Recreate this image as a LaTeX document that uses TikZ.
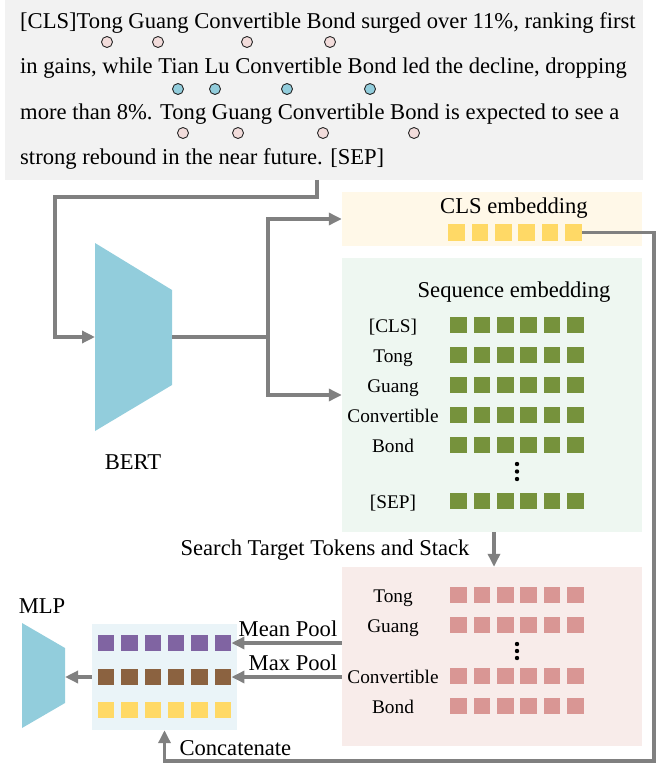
\documentclass[tikz,border=0pt]{standalone}
\usepackage{fontspec}
\setmainfont{Liberation Serif}
\usetikzlibrary{arrows.meta}
\definecolor{txtbg}{HTML}{F2F2F2}
\definecolor{clsbg}{HTML}{FFF8E8}
\definecolor{seqbg}{HTML}{EEF7F1}
\definecolor{tgtbg}{HTML}{F8ECEA}
\definecolor{catbg}{HTML}{EAF4F8}
\definecolor{bertblue}{HTML}{92CDDC}
\definecolor{clsyel}{HTML}{FFD966}
\definecolor{seqgreen}{HTML}{76923C}
\definecolor{tgtpink}{HTML}{D99694}
\definecolor{meanpurple}{HTML}{8064A2}
\definecolor{maxbrown}{HTML}{8B6240}
\definecolor{arrgray}{HTML}{808080}
\definecolor{markpink}{HTML}{F2DCDB}
\begin{document}
\begin{tikzpicture}[x=1pt,y=-1pt,
    every node/.style={font=\fontsize{22.6}{27}\selectfont},
    panel/.style={fill=#1,inner sep=0pt},
    sq/.style={fill=#1,minimum size=16.5pt,inner sep=0pt},
    tokmark/.style={circle,draw=black!85,line width=0.9pt,fill=#1,minimum size=11pt,inner sep=0pt},
    rowlab/.style={font=\fontsize{19.3}{23}\selectfont,anchor=base},
    link/.style={draw=arrgray,line width=3.5pt},
    arr/.style={link,-{Triangle[length=13pt,width=12pt]}}]
  \useasboundingbox (0,0) rectangle (658,767);

  \node[panel=txtbg,minimum width=638pt,minimum height=180pt] (txt) at (324,90) {};
  \node[anchor=base west,inner sep=0pt] (line1) at (20,29) {[CLS]Tong Guang Convertible Bond surged over 11\%, ranking first};
  \node[anchor=base west,inner sep=0pt] (line2) at (20,74) {in gains, while Tian Lu Convertible Bond led the decline, dropping};
  \node[anchor=base west,inner sep=0pt] (line3) at (20,120) {more than 8\%. Tong Guang Convertible Bond is expected to see a};
  \node[anchor=base west,inner sep=0pt] (line4) at (20,165) {strong rebound in the near future. [SEP]};
  \foreach \x [count=\k] in {107,158,247,330}
    \node[tokmark=markpink] (ma\k) at (\x,42) {};
  \foreach \x [count=\k] in {178,215,287,370}
    \node[tokmark=bertblue] (mb\k) at (\x,89) {};
  \foreach \x [count=\k] in {183,238,323,414}
    \node[tokmark=markpink] (mc\k) at (\x,133) {};

  \fill[bertblue] (95,243) -- (172,290) -- (172,385) -- (95,431) -- cycle;
  \coordinate (bertin) at (95,337);
  \coordinate (bertout) at (172,337);
  \node[anchor=base] (bertlab) at (133,469) {BERT};

  \node[panel=clsbg,minimum width=300pt,minimum height=54pt] (clsbox) at (492,219) {};
  \node[panel=seqbg,minimum width=300pt,minimum height=274pt] (seqbox) at (492,395) {};
  \node[panel=tgtbg,minimum width=300pt,minimum height=179pt] (tgtbox) at (492,656.5) {};
  \node[panel=catbg,minimum width=145pt,minimum height=106pt] (catbox) at (164.5,677) {};

  \node[anchor=base] (clstitle) at (514,213) {CLS embedding};
  \foreach \i in {0,...,5}
    \node[sq=clsyel] (cls\i) at (456.5+23.4*\i,232.5) {};

  \node[anchor=base] (seqtitle) at (514,297) {Sequence embedding};
  \foreach \y/\lab [count=\r] in {325/{[CLS]},355/Tong,385/Guang,415/Convertible,445/Bond,501/{[SEP]}} {
    \node[rowlab] (seqlab\r) at (393,\y+7) {\lab};
    \foreach \i in {0,...,5}
      \node[sq=seqgreen] (seq\r-\i) at (458.5+23.4*\i,\y) {};
  }
  \foreach \d in {464,471.5,479}
    \fill (517,\d) circle (2.2pt);

  \foreach \y/\lab [count=\r] in {595/Tong,625/Guang,676/Convertible,706/Bond} {
    \node[rowlab] (tgtlab\r) at (393,\y+7) {\lab};
    \foreach \i in {0,...,5}
      \node[sq=tgtpink] (tgt\r-\i) at (458.5+23.4*\i,\y) {};
  }
  \foreach \d in {644,651,658}
    \fill (517,\d) circle (2.2pt);

  \foreach \i in {0,...,5} {
    \node[sq=meanpurple] (mean\i) at (106+23.4*\i,643) {};
    \node[sq=maxbrown] (max\i) at (106+23.4*\i,677) {};
    \node[sq=clsyel] (cat\i) at (106+23.4*\i,710) {};
  }

  \fill[bertblue] (22,623) -- (65,648) -- (65,703) -- (22,728) -- cycle;
  \coordinate (mlpin) at (65,677);
  \node[anchor=base] (mlplab) at (42,613) {MLP};

  \coordinate (txtout) at (317,180);
  \coordinate (srch) at (494,0);
  \draw[arr] (txtout) -- (317,197) -- (55,197) |- (bertin);
  \draw[link] (bertout) -- (268,337) coordinate (split);
  \draw[arr] (split) |- (clsbox.west);
  \draw[arr] (split) |- (seqbox.west);
  \draw[arr] (cls5.east) -| (654,761) -| (catbox.south);
  \node[anchor=base west] (catlab) at (176,755) {Concatenate};
  \draw[arr] (seqbox.south -| srch) -- (tgtbox.north -| srch);
  \node[anchor=base east] (srchlab) at (473,555) {Search Target Tokens and Stack};
  \draw[arr] (tgtbox.west |- mean5.east) -- (mean5.east);
  \draw[arr] (tgtbox.west |- max5.east) -- (max5.east);
  \node[anchor=base] (meanlab) at (288,636) {Mean Pool};
  \node[anchor=base] (maxlab) at (293,670) {Max Pool};
  \draw[arr] (catbox.west) -- (mlpin);
\end{tikzpicture}
\end{document}
